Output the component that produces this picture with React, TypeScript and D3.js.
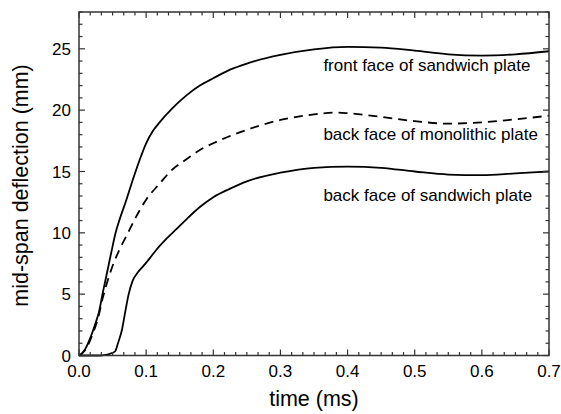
import * as d3 from 'd3';
import React from 'react';

// time (ms) and mid-span deflection (mm)
const frontTime = [0, 0.005, 0.01, 0.015, 0.02, 0.025, 0.03, 0.035, 0.04, 0.045, 0.05, 0.055, 0.06, 0.07, 0.08, 0.09, 0.1, 0.11, 0.12, 0.14, 0.16, 0.18, 0.2, 0.225, 0.25, 0.3, 0.35, 0.4, 0.45, 0.5, 0.55, 0.6, 0.65, 0.7];
const frontDefl = [0, 0.2, 0.6, 1.2, 1.9, 2.7, 3.6, 5.0, 6.3, 7.6, 8.9, 10.1, 11.0, 12.6, 14.3, 15.9, 17.3, 18.3, 19.0, 20.2, 21.2, 22.0, 22.6, 23.3, 23.8, 24.5, 24.95, 25.15, 25.1, 24.85, 24.55, 24.45, 24.55, 24.8];

const monoTime = [0, 0.01, 0.02, 0.03, 0.034, 0.04, 0.05, 0.06, 0.073, 0.085, 0.1, 0.12, 0.136, 0.16, 0.18, 0.2, 0.25, 0.3, 0.35, 0.38, 0.4, 0.45, 0.5, 0.55, 0.6, 0.65, 0.7];
const monoDefl = [0, 0.5, 1.7, 3.4, 4.4, 5.6, 7.3, 8.6, 10.0, 11.3, 12.7, 14.0, 15.0, 16.0, 16.75, 17.3, 18.4, 19.2, 19.65, 19.8, 19.75, 19.45, 19.1, 18.9, 19.0, 19.25, 19.55];

const backTime = [0, 0.03, 0.04, 0.045, 0.05, 0.054, 0.058, 0.064, 0.069, 0.074, 0.08, 0.088, 0.096, 0.105, 0.115, 0.13, 0.145, 0.16, 0.18, 0.2, 0.225, 0.25, 0.3, 0.35, 0.4, 0.45, 0.5, 0.55, 0.6, 0.65, 0.7];
const backDefl = [0, 0, 0.05, 0.12, 0.22, 0.35, 1.0, 2.1, 3.6, 5.0, 6.1, 6.8, 7.3, 7.9, 8.6, 9.5, 10.3, 11.1, 12.1, 12.9, 13.6, 14.2, 14.9, 15.3, 15.4, 15.3, 15.0, 14.75, 14.7, 14.85, 15.0];

const xTickLabels = ['0.0', '0.1', '0.2', '0.3', '0.4', '0.5', '0.6', '0.7'];
const yTickLabels = ['0', '5', '10', '15', '20', '25'];
const curveLabels = ['front face of sandwich plate', 'back face of monolithic plate', 'back face of sandwich plate'];
const labelAt = [23.2, 17.6, 12.6];

const font = 'Liberation Sans, Arial, Helvetica, sans-serif';

export default function App() {
  const margin = { top: 12, right: 12, bottom: 58.5, left: 79 };
  const W = 561;
  const H = 414;
  const width = W - margin.left - margin.right;
  const height = H - margin.top - margin.bottom;

  const x = d3.scaleLinear().domain([0, 0.7]).range([0, width]);
  const y = d3.scaleLinear().domain([0, 28]).range([height, 0]);

  const line = d3
    .line<[number, number]>()
    .x((d) => x(d[0]))
    .y((d) => y(d[1]))
    .curve(d3.curveMonotoneX);

  const zip = (t: number[], v: number[]) => t.map((d, i) => [d, v[i]] as [number, number]);

  // ticks
  const xMinor = d3.range(0, 43).map((i) => i / 60);
  const xMajor = xTickLabels.map((d) => +d);
  const yMinor = d3.range(0, 29);
  const yMajor = yTickLabels.map((d) => +d);
  const major = 6;
  const minor = 3.5;
  const axisColor = '#333';

  return (
    <svg width={W} height={H} style={{ position: 'absolute', left: 0, top: 0, background: '#fff' }}>
      <g transform={`translate(${margin.left},${margin.top})`}>
        {/* curves */}
        <path d={line(zip(frontTime, frontDefl)) || ''} fill="none" stroke="#000" strokeWidth={1.8} />
        <path d={line(zip(monoTime, monoDefl)) || ''} fill="none" stroke="#000" strokeWidth={1.8} strokeDasharray="9,6" />
        <path d={line(zip(backTime, backDefl)) || ''} fill="none" stroke="#000" strokeWidth={1.8} />

        {/* frame */}
        <rect x={0} y={0} width={width} height={height} fill="none" stroke={axisColor} strokeWidth={1.5} />

        {/* x ticks, bottom and top */}
        {xMinor.map((t, i) => {
          const len = i % 6 === 0 ? major : minor;
          return (
            <g key={'xt' + i}>
              <line x1={x(t)} x2={x(t)} y1={height} y2={height - len} stroke={axisColor} strokeWidth={1.2} />
              <line x1={x(t)} x2={x(t)} y1={0} y2={len} stroke={axisColor} strokeWidth={1.2} />
            </g>
          );
        })}
        {/* y ticks, left and right */}
        {yMinor.map((v, i) => {
          const len = v % 5 === 0 ? major : minor;
          return (
            <g key={'yt' + i}>
              <line x1={0} x2={len} y1={y(v)} y2={y(v)} stroke={axisColor} strokeWidth={1.2} />
              <line x1={width} x2={width - len} y1={y(v)} y2={y(v)} stroke={axisColor} strokeWidth={1.2} />
            </g>
          );
        })}

        {/* tick labels */}
        {xMajor.map((t, i) => (
          <text key={'xl' + i} x={x(t)} y={height + 21} textAnchor="middle" fontFamily={font} fontSize={17} fill="#000">
            {xTickLabels[i]}
          </text>
        ))}
        {yMajor.map((v, i) => (
          <text key={'yl' + i} x={-8} y={y(v)} dy="0.36em" textAnchor="end" fontFamily={font} fontSize={17} fill="#000">
            {yTickLabels[i]}
          </text>
        ))}

        {/* curve labels */}
        {curveLabels.map((s, i) => (
          <text key={'cl' + i} x={x(0.364)} y={y(labelAt[i])} fontFamily={font} fontSize={17} fill="#000">
            {s}
          </text>
        ))}

        {/* axis titles */}
        <text x={314 - margin.left} y={height + 50} textAnchor="middle" fontFamily={font} fontSize={21.5} fill="#000">
          time (ms)
        </text>
        <text
          transform={`translate(${-margin.left + 28},${185.5 - margin.top}) rotate(-90)`}
          textAnchor="middle"
          fontFamily={font}
          fontSize={21.5}
          fill="#000"
        >
          mid-span deflection (mm)
        </text>
      </g>
    </svg>
  );
}
